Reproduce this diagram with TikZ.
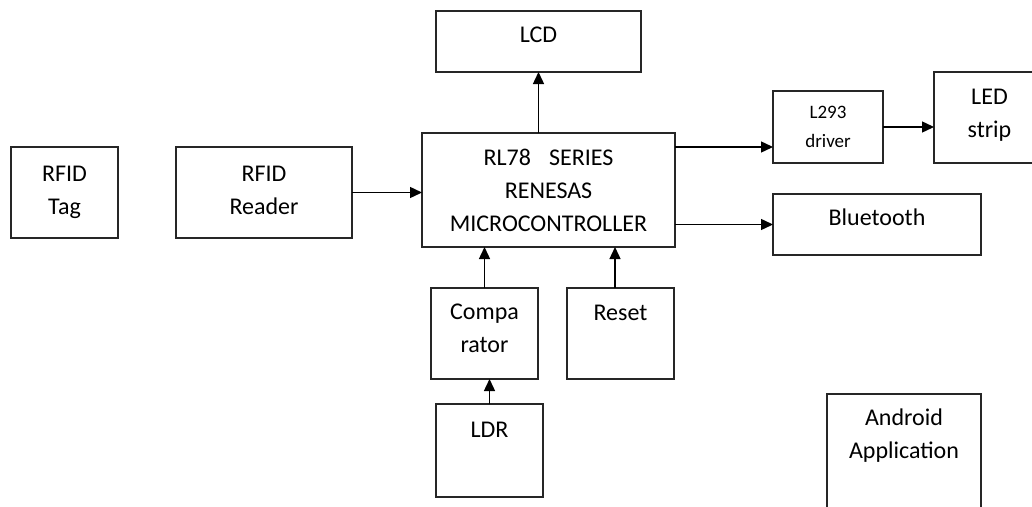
\documentclass[tikz,border=0pt]{standalone}
\usepackage{fontspec}
\setmainfont{Carlito}
\usetikzlibrary{arrows.meta,calc}
\tikzset{
  box/.style={draw=black!85, line width=1.4pt, rectangle, inner sep=0pt, outer sep=0pt},
  txt/.style={anchor=base, inner sep=0pt, font=\fontsize{24}{33}\selectfont, text=black},
  smalltxt/.style={anchor=base, inner sep=0pt, font=\fontsize{19}{29}\selectfont, text=black},
  arr/.style={line width=1.4pt, -{Triangle[length=12pt,width=11pt]}}
}
\newcommand{\lines}[1]{\begin{tabular}[t]{@{}c@{}}#1\end{tabular}}
\begin{document}
\begin{tikzpicture}[x=1pt,y=-1pt]
\useasboundingbox (0,0) rectangle (1032,506);
\clip (0,0) rectangle (1032,506);
\fill[white] (0,0) rectangle (1032,506);
% boxes
\node[box, minimum width=107pt, minimum height=91pt] (tag) at (64.5,192.5) {};
\node[box, minimum width=176pt, minimum height=91pt] (reader) at (264,192.5) {};
\node[box, minimum width=205pt, minimum height=61pt] (lcd) at (538.5,41.5) {};
\node[box, minimum width=253pt, minimum height=114pt] (mcu) at (548.5,190) {};
\node[box, minimum width=110pt, minimum height=72pt] (l293) at (828,127) {};
\node[box, minimum width=111pt, minimum height=91pt] (led) at (989.5,117.5) {};
\node[box, minimum width=208pt, minimum height=61pt] (bt) at (877,224.5) {};
\node[box, minimum width=107pt, minimum height=91pt] (comp) at (484.5,333.5) {};
\node[box, minimum width=107pt, minimum height=91pt] (reset) at (620.5,333.5) {};
\node[box, minimum width=107pt, minimum height=93pt] (ldr) at (489.5,450.5) {};
\node[box, minimum width=154pt, minimum height=136pt] (android) at (904,462) {};
% texts
\node[txt] (tag-t) at ($(tag.north)+(0,34)$) {\lines{RFID\\Tag}};
\node[txt] (reader-t) at ($(reader.north)+(0,34)$) {\lines{RFID\\Reader}};
\node[txt] (lcd-t) at ($(lcd.north)+(0,31)$) {LCD};
\node[txt] (mcu-t) at ($(mcu.north)+(0,32)$) {\lines{RL78\hspace{18pt}SERIES\\RENESAS\\MICROCONTROLLER}};
\node[smalltxt] (l293-t) at ($(l293.north)+(0,27)$) {\lines{L293\\driver}};
\node[txt] (led-t) at ($(led.north)+(0,32)$) {\lines{LED\\strip}};
\node[txt] (bt-t) at ($(bt.north)+(0,31)$) {Bluetooth};
\node[txt] (comp-t) at ($(comp.north)+(0,31)$) {\lines{Compa\\rator}};
\node[txt] (reset-t) at ($(reset.north)+(0,32)$) {Reset};
\node[txt] (ldr-t) at ($(ldr.north)+(0,33)$) {LDR};
\node[txt] (android-t) at ($(android.north)+(0,31)$) {\lines{Android\\Application}};
% connector helpers
\coordinate (y147) at (0,147);
\coordinate (x615) at (615,0);
% connectors
\draw[arr] (reader.east) -- (mcu.west |- reader.east);
\draw[arr] (mcu.north -| lcd.south) -- (lcd.south);
\draw[arr] (mcu.east |- y147) -- (l293.west |- y147);
\draw[arr] (l293.east) -- (led.west |- l293.east);
\draw[arr] (mcu.east |- bt.west) -- (bt.west);
\draw[arr] (comp.north) -- (comp.north |- mcu.south);
\draw[arr] (x615 |- reset.north) -- (x615 |- mcu.south);
\draw[arr] (ldr.north) -- (ldr.north |- comp.south);
\end{tikzpicture}
\end{document}
